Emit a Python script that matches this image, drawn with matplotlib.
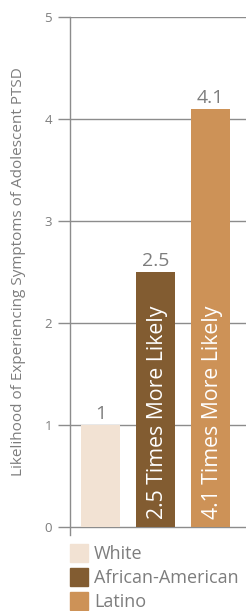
import matplotlib
matplotlib.use('Agg')
import matplotlib.pyplot as plt
from matplotlib.patches import Rectangle

plt.rcParams['font.family'] = ['Open Sans', 'DejaVu Sans']

# datos
grupos = ['White', 'African-American', 'Latino']
valores = [1, 2.5, 4.1]
etiquetas = ['1', '2.5', '4.1']
textos_barra = ['', '2.5 Times More Likely', '4.1 Times More Likely']
colores = ['#F2E2D3', '#825C31', '#CD9257']
yticks = [0, 1, 2, 3, 4, 5]

gris = '#8C8C8C'
texto_gris = '#7D7D7D'

W, H = 246, 611
fig = plt.figure(figsize=(W / 100, H / 100), dpi=100)
ax = fig.add_axes([70 / W, 76 / H, 176 / W, 518 / H])

x = list(range(len(grupos)))
ax.bar(x, valores, width=39 / 55, color=colores, zorder=3)
ax.set_xlim(-30.5 / 55, 2 + 35.5 / 55)
ax.set_ylim(-0.08, 5)

for i, v in enumerate(valores):
    ax.text(i, v + 0.02, etiquetas[i], ha='center', va='bottom',
            fontsize=14, color=texto_gris)
    if textos_barra[i]:
        ax.text(i + 0.03, 0.08, textos_barra[i], rotation=90, ha='center',
                va='bottom', fontsize=15.3, color='white', zorder=4)

ax.set_yticks(yticks)
ax.set_yticklabels([str(t) for t in yticks])
ax.set_xticks([])
ax.grid(axis='y', color=gris, linewidth=1, zorder=0)
for s in ['top', 'right', 'bottom']:
    ax.spines[s].set_visible(False)
ax.spines['left'].set_color(gris)
ax.spines['left'].set_linewidth(1)
ax.tick_params(axis='y', length=9, width=1, color=gris, labelcolor=texto_gris,
               labelsize=9.5, pad=4)
ax.set_ylabel('Likelihood of Experiencing Symptoms of Adolescent PTSD',
              fontsize=11, color=texto_gris)
ax.yaxis.set_label_coords(-44 / 176, 0.508)

# leyenda
for i, g in enumerate(grupos):
    y0 = H - 562 - i * 24
    fig.patches.append(Rectangle((70 / W, y0 / H), 18 / W, 18 / H,
                                 transform=fig.transFigure, color=colores[i]))
    fig.text(94 / W, (y0 + 8) / H, g, ha='left', va='center',
             fontsize=13, color=texto_gris)

fig.savefig('out.png', dpi=100)
